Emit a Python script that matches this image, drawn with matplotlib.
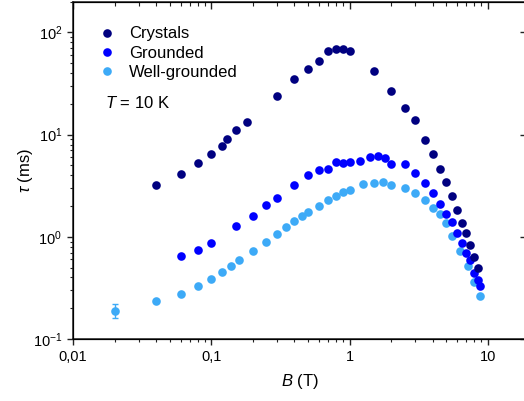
import numpy as np
import matplotlib
matplotlib.use("Agg")
import matplotlib.pyplot as plt
from matplotlib.ticker import LogLocator, FixedLocator, FixedFormatter, NullFormatter

plt.rcParams['font.family'] = ['Liberation Sans', 'DejaVu Sans']
plt.rcParams['mathtext.fontset'] = 'custom'
plt.rcParams['mathtext.rm'] = 'Liberation Sans'
plt.rcParams['mathtext.it'] = 'Liberation Sans:italic'

# ---------------------------------------------------------------------------
# Data
# ---------------------------------------------------------------------------
cr_B = [0.04, 0.06, 0.08, 0.1, 0.12, 0.13, 0.15, 0.18, 0.3, 0.4, 0.5, 0.6, 0.7,
        0.8, 0.9, 1.0, 1.5, 2.0, 2.5, 3.0, 3.5, 4.0, 4.5, 5.0, 5.5, 6.0, 6.5,
        7.0, 7.5, 8.0, 8.5]
cr_tau = [3.21, 4.14, 5.24, 6.46, 7.79, 8.99, 11.0, 13.2, 23.9, 35.0, 44.2,
          52.5, 66.2, 69.3, 68.5, 66.2, 41.6, 26.9, 18.3, 13.9, 8.85, 6.50,
          4.61, 3.41, 2.49, 1.84, 1.37, 1.08, 0.826, 0.630, 0.499]

gr_B = [0.06, 0.08, 0.1, 0.15, 0.2, 0.25, 0.3, 0.4, 0.5, 0.6, 0.7, 0.8, 0.9,
        1.0, 1.2, 1.4, 1.6, 1.8, 2.0, 2.5, 3.0, 3.5, 4.0, 4.5, 5.0, 5.5, 6.0,
        6.5, 7.0, 7.5, 8.0, 8.5, 8.8]
gr_tau = [0.644, 0.738, 0.875, 1.27, 1.59, 2.03, 2.41, 3.23, 4.05, 4.51, 4.61,
          5.43, 5.31, 5.35, 5.52, 6.08, 6.22, 5.90, 5.16, 5.16, 4.21, 3.38,
          2.70, 2.09, 1.68, 1.39, 1.09, 0.875, 0.694, 0.589, 0.445, 0.378, 0.330]

wg_B = [0.02, 0.04, 0.06, 0.08, 0.1, 0.12, 0.14, 0.16, 0.2, 0.25, 0.3, 0.35,
        0.4, 0.45, 0.5, 0.6, 0.7, 0.8, 0.9, 1.0, 1.25, 1.5, 1.75, 2.0, 2.5,
        3.0, 3.5, 4.0, 4.5, 5.0, 5.5, 6.3, 7.2, 8.0, 8.8]
wg_tau = [0.189, 0.234, 0.276, 0.328, 0.384, 0.449, 0.518, 0.589, 0.731, 0.896,
          1.07, 1.25, 1.43, 1.59, 1.74, 2.02, 2.29, 2.51, 2.73, 2.87, 3.29,
          3.38, 3.44, 3.23, 2.98, 2.66, 2.31, 1.91, 1.66, 1.36, 1.03, 0.731,
          0.522, 0.364, 0.265]
wg_err = [0.03]  # error bar on the lowest-field point only

labels = ["Crystals", "Grounded", "Well-grounded"]
colors = ["#000080", "#0000ff", "#3daaf7"]

x_ticks = [0.01, 0.1, 1, 10]
x_ticklabels = ["0,01", "0,1", "1", "10"]

# ---------------------------------------------------------------------------
# Figure
# ---------------------------------------------------------------------------
fig = plt.figure(figsize=(5.24, 4.01), dpi=100)
ax = fig.add_axes([0.1393, 0.1546, 0.8651, 0.8411])

ms = 6.2
ax.plot(wg_B, wg_tau, 'o', color=colors[2], ms=ms, mew=0, label=labels[2], zorder=3)
ax.errorbar(wg_B[:1], wg_tau[:1], yerr=wg_err, fmt='none', ecolor=colors[2],
            elinewidth=1, capsize=2.5, capthick=1, zorder=3)
ax.plot(gr_B, gr_tau, 'o', color=colors[1], ms=ms, mew=0, label=labels[1], zorder=4)
ax.plot(cr_B, cr_tau, 'o', color=colors[0], ms=ms, mew=0, label=labels[0], zorder=5)

ax.set_xscale('log')
ax.set_yscale('log')
ax.set_xlim(0.01, 19)
ax.set_ylim(0.1, 200)

ax.xaxis.set_major_locator(FixedLocator(x_ticks))
ax.xaxis.set_major_formatter(FixedFormatter(x_ticklabels))
ax.xaxis.set_minor_locator(LogLocator(base=10, subs=np.arange(2, 10)))
ax.xaxis.set_minor_formatter(NullFormatter())
ax.yaxis.set_major_locator(LogLocator(base=10, numticks=10))
ax.yaxis.set_minor_locator(LogLocator(base=10, subs=np.arange(2, 10), numticks=10))
ax.yaxis.set_minor_formatter(NullFormatter())

ax.tick_params(which='major', direction='out', length=4.3, width=1, labelsize=10.5,
               colors='#222222', labelcolor='black')
ax.tick_params(which='minor', direction='out', length=2.2, width=0.8, colors='#222222')
for s in ax.spines.values():
    s.set_linewidth(1.1)
    s.set_color('#222222')

# mirrored inward ticks on top and right
axt = ax.twiny()
axt.set_xscale('log')
axt.set_xlim(ax.get_xlim())
axt.xaxis.set_major_locator(FixedLocator(x_ticks))
axt.xaxis.set_minor_locator(LogLocator(base=10, subs=np.arange(2, 10)))
axt.tick_params(which='major', direction='in', length=5, width=1, labeltop=False,
                colors='#222222')
axt.tick_params(which='minor', direction='in', length=3, width=0.8, colors='#222222')
axt.xaxis.set_major_formatter(NullFormatter())
axt.xaxis.set_minor_formatter(NullFormatter())

axr = ax.twinx()
axr.set_yscale('log')
axr.set_ylim(ax.get_ylim())
axr.yaxis.set_major_locator(LogLocator(base=10, numticks=10))
axr.yaxis.set_minor_locator(FixedLocator([]))
axr.tick_params(which='major', direction='in', length=4, width=1, labelright=False,
                colors='#222222')
axr.yaxis.set_major_formatter(NullFormatter())

ax.set_xlabel(r'$B$ (T)', fontsize=12, labelpad=6)
ax.set_ylabel(r'$\tau$ (ms)', fontsize=12, labelpad=-2)

h, l = ax.get_legend_handles_labels()
order = [2, 1, 0]
ax.legend([h[i] for i in order], [l[i] for i in order], loc='upper left',
          bbox_to_anchor=(0.056, 0.927), frameon=False, fontsize=12,
          handlelength=1.0, handletextpad=0.84, borderpad=0, borderaxespad=0,
          labelspacing=0.25, numpoints=1)

ax.text(0.07, 0.70, r'$T$ = 10 K', transform=ax.transAxes, fontsize=12,
        va='center', ha='left')

fig.savefig("out.png", dpi=100)
